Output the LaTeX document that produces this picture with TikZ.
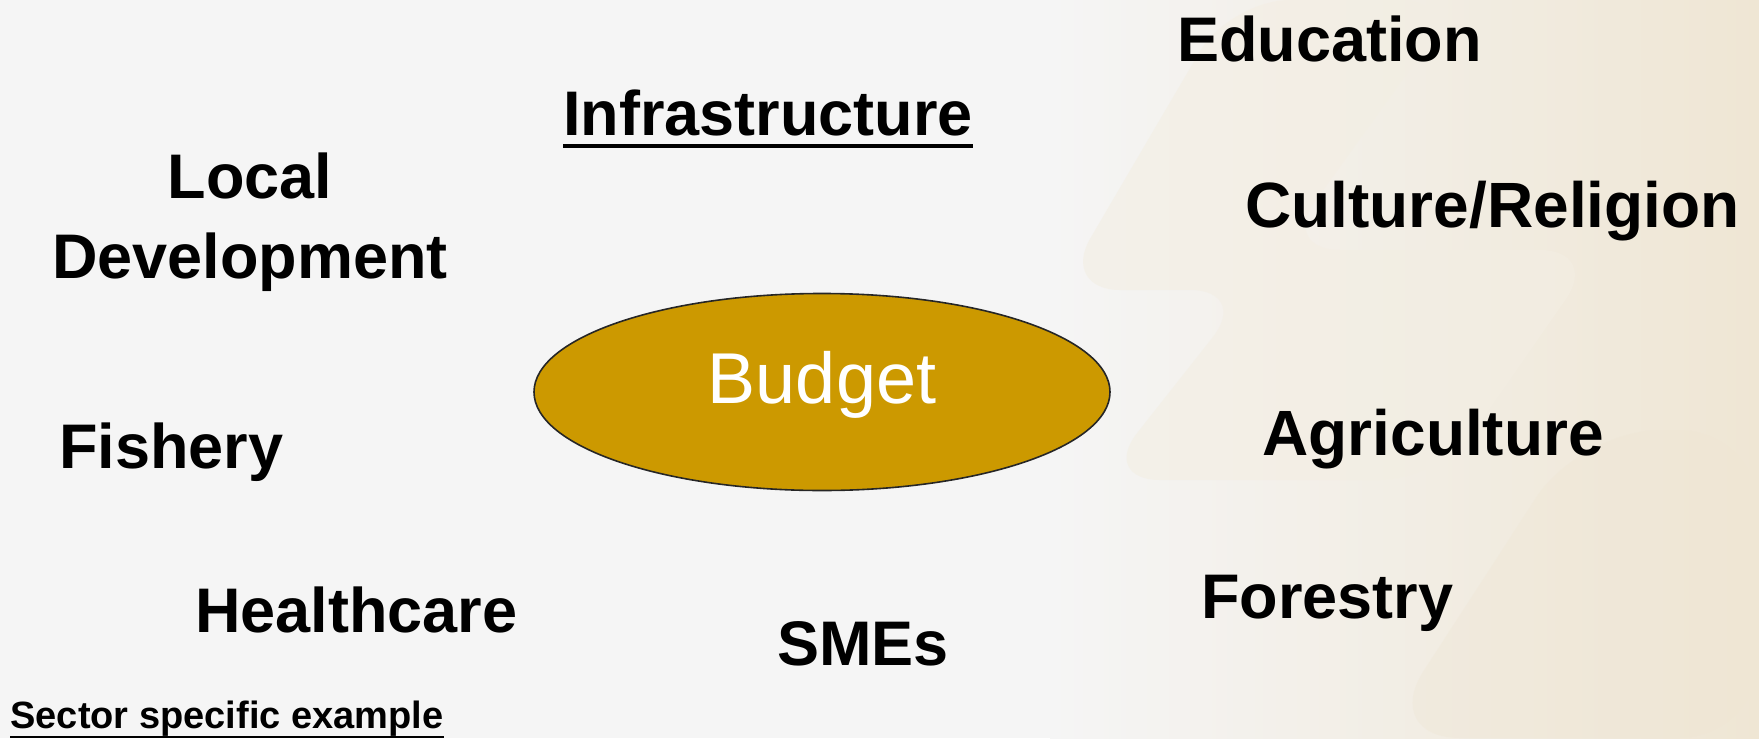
\documentclass[tikz,border=0pt]{standalone}
\usepackage{fontspec}
\setmainfont{Liberation Sans}
\usetikzlibrary{shapes.geometric}
\definecolor{bg}{HTML}{F5F5F5}
\definecolor{beige}{HTML}{EFE6D4}
\definecolor{beigelt}{HTML}{F3EEE3}
\definecolor{gold}{HTML}{CC9900}
\begin{document}
\begin{tikzpicture}[x=0.5pt,y=-0.5pt,
  lbl/.style={font=\fontsize{31.5}{40}\selectfont\bfseries, inner sep=0pt, anchor=base west},
  lblbig/.style={lbl, font=\fontsize{32}{40}\selectfont\bfseries},
  uline/.style={line width=2pt}]
\useasboundingbox (0,0) rectangle (1759,738);
% background
\fill[bg] (0,0) rectangle (1759,738);
\shade[left color=bg, right color=beige] (1050,0) rectangle (1759,738);
\fill[beigelt, opacity=0.6, rounded corners=30pt] (1230,0) -- (1460,0) -- (1280,250) -- (1600,250) -- (1440,480) -- (1100,480) -- (1250,290) -- (1060,290) -- cycle;
\fill[beige, opacity=0.35, rounded corners=40pt] (1380,738) -- (1580,430) -- (1759,430) -- (1759,738) -- cycle;
% centre ellipse
\node[ellipse, draw=black!85, line width=0.8pt, fill=gold, minimum width=288pt, minimum height=98.5pt, inner sep=0pt,
      text=white, font=\fontsize{36}{40}\selectfont, text height=26.3pt, text depth=15.3pt] (budget) at (822,392) {Budget};
% labels
\node[lbl] (edu) at (1177,62) {Education};
\node[lbl] (infra) at (563,135) {Infrastructure};
\draw[uline] ([yshift=-5.5pt]infra.base west) -- ([yshift=-5.5pt]infra.base east);
\node[lbl, anchor=north, align=center] (local) at (250,152) {Local\\Development};
\node[lblbig] (culture) at (1245,227) {Culture/Religion};
\node[lbl] (fishery) at (59,468) {Fishery};
\node[lblbig] (agri) at (1262,455) {Agriculture};
\node[lbl] (health) at (195,632) {Healthcare};
\node[lbl] (smes) at (777,665) {SMEs};
\node[lbl] (forestry) at (1201,618) {Forestry};
\node[lbl, font=\fontsize{19}{21}\selectfont\bfseries] (sector) at (10,728) {Sector specific example};
\draw[line width=1pt] ([yshift=-4.5pt]sector.base west) -- ([yshift=-4.5pt]sector.base east);
\end{tikzpicture}
\end{document}
